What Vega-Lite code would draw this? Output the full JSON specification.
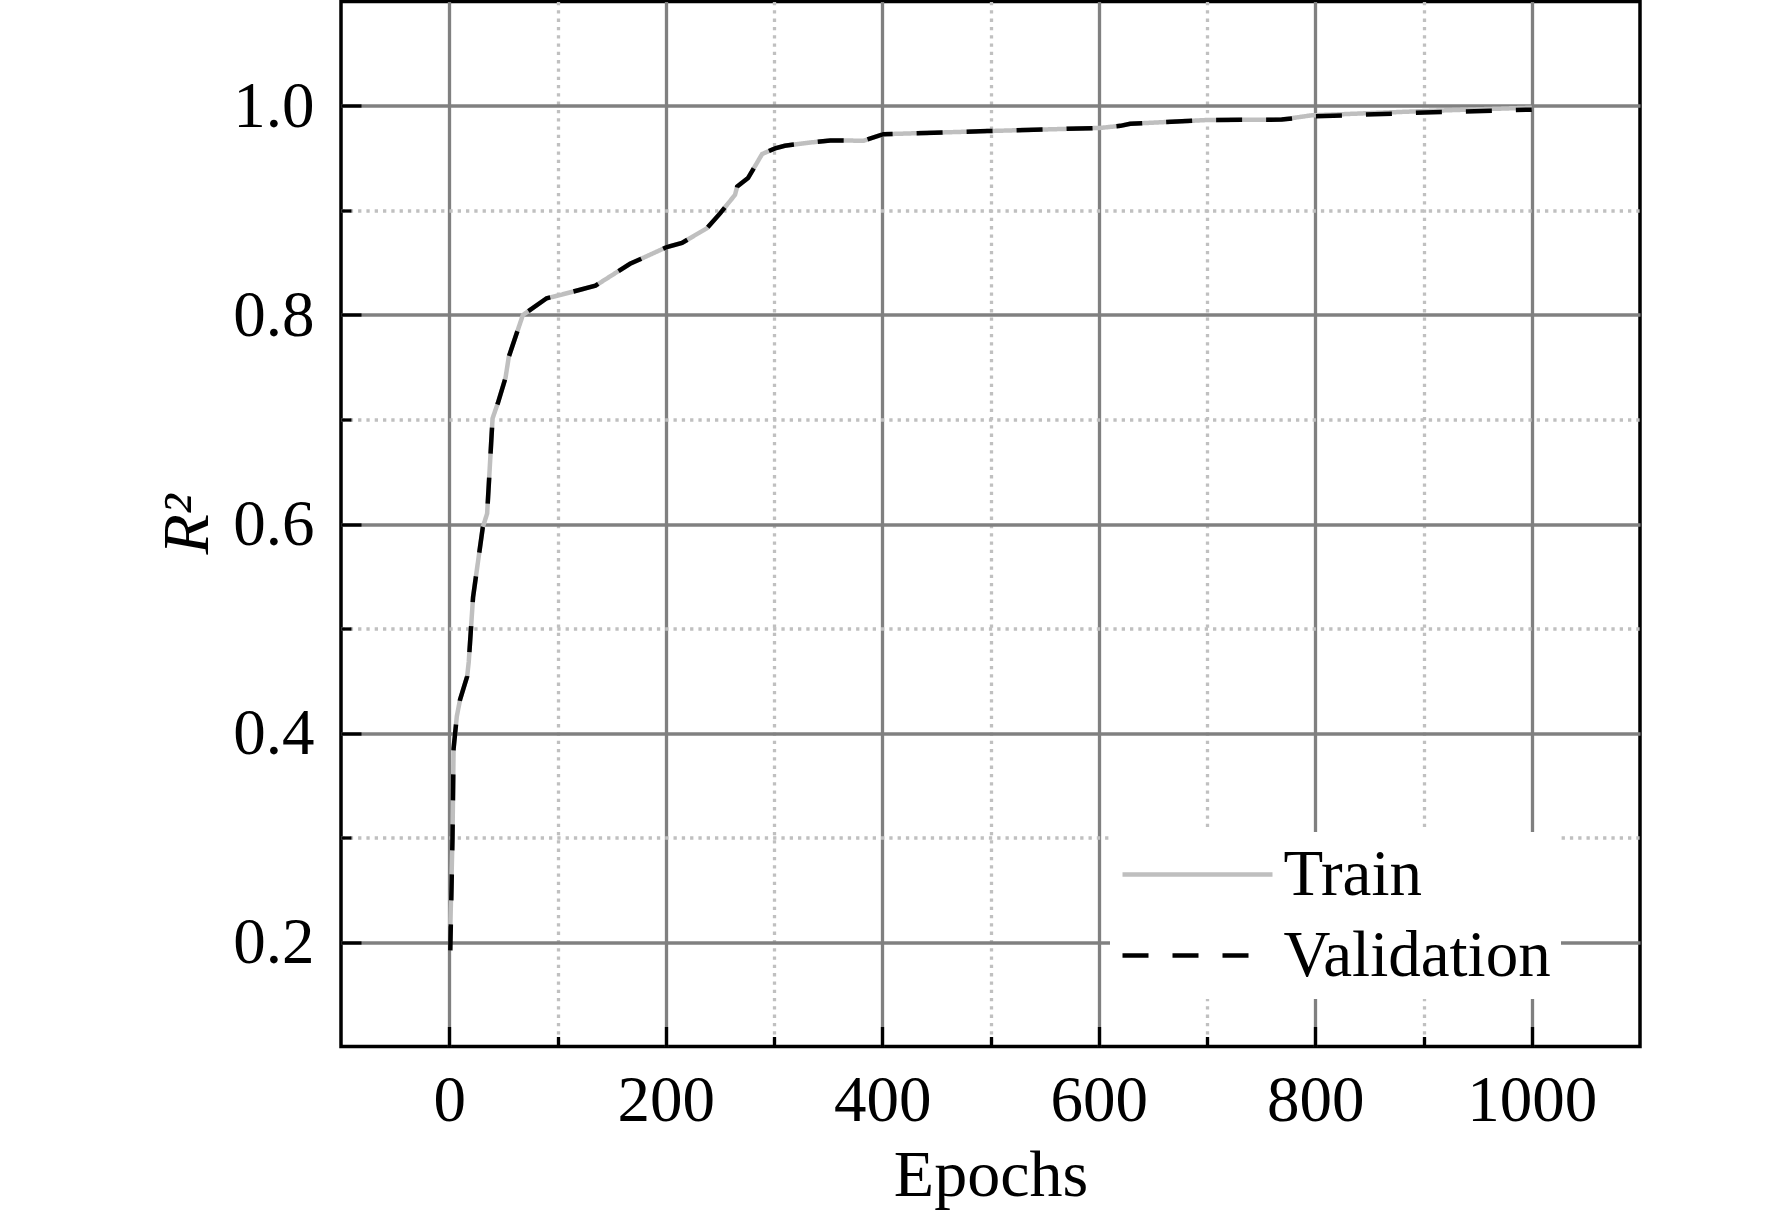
{
  "$schema": "https://vega.github.io/schema/vega-lite/v6.json",
  "autosize": {"type": "none"},
  "padding": {"left": 341, "top": 1.5, "right": 132, "bottom": 171.5},
  "width": 1299,
  "height": 1045,
  "background": "white",
  "config": {
    "font": "Liberation Serif",
    "view": {"stroke": "black", "strokeWidth": 3.5},
    "axis": {
      "labelFont": "Liberation Serif",
      "titleFont": "Liberation Serif",
      "labelColor": "black",
      "titleColor": "black",
      "titleFontWeight": "normal",
      "domain": false
    },
    "legend": {
      "title": null, "orient": "none", "legendX": 769, "legendY": 830.5,
      "symbolType": "M-2,0L8,0", "symbolSize": 900, "symbolStrokeWidth": 4.5,
      "labelFont": "Liberation Serif", "labelFontSize": 65, "labelColor": "black",
      "labelOffset": 98.5, "labelLimit": 500, "padding": 10, "rowPadding": 15,
      "fillColor": "white", "strokeColor": null
    }
  },
  "data": {
    "values": [
      {"epoch": 1, "r2": 0.215, "series": "Train"},
      {"epoch": 3, "r2": 0.300, "series": "Train"},
      {"epoch": 4, "r2": 0.385, "series": "Train"},
      {"epoch": 7, "r2": 0.416, "series": "Train"},
      {"epoch": 10, "r2": 0.432, "series": "Train"},
      {"epoch": 16.5, "r2": 0.454, "series": "Train"},
      {"epoch": 18, "r2": 0.468, "series": "Train"},
      {"epoch": 22, "r2": 0.530, "series": "Train"},
      {"epoch": 31, "r2": 0.597, "series": "Train"},
      {"epoch": 35, "r2": 0.610, "series": "Train"},
      {"epoch": 40, "r2": 0.701, "series": "Train"},
      {"epoch": 45, "r2": 0.716, "series": "Train"},
      {"epoch": 52, "r2": 0.740, "series": "Train"},
      {"epoch": 55, "r2": 0.760, "series": "Train"},
      {"epoch": 68, "r2": 0.800, "series": "Train"},
      {"epoch": 90, "r2": 0.816, "series": "Train"},
      {"epoch": 102, "r2": 0.819, "series": "Train"},
      {"epoch": 135, "r2": 0.828, "series": "Train"},
      {"epoch": 167, "r2": 0.849, "series": "Train"},
      {"epoch": 201, "r2": 0.865, "series": "Train"},
      {"epoch": 215, "r2": 0.869, "series": "Train"},
      {"epoch": 238, "r2": 0.883, "series": "Train"},
      {"epoch": 250, "r2": 0.897, "series": "Train"},
      {"epoch": 264, "r2": 0.915, "series": "Train"},
      {"epoch": 266, "r2": 0.923, "series": "Train"},
      {"epoch": 276, "r2": 0.931, "series": "Train"},
      {"epoch": 289, "r2": 0.954, "series": "Train"},
      {"epoch": 301, "r2": 0.9595, "series": "Train"},
      {"epoch": 310, "r2": 0.962, "series": "Train"},
      {"epoch": 333, "r2": 0.965, "series": "Train"},
      {"epoch": 352, "r2": 0.967, "series": "Train"},
      {"epoch": 383, "r2": 0.9668, "series": "Train"},
      {"epoch": 401, "r2": 0.973, "series": "Train"},
      {"epoch": 497, "r2": 0.976, "series": "Train"},
      {"epoch": 601, "r2": 0.979, "series": "Train"},
      {"epoch": 620, "r2": 0.981, "series": "Train"},
      {"epoch": 629, "r2": 0.983, "series": "Train"},
      {"epoch": 700, "r2": 0.9866, "series": "Train"},
      {"epoch": 769, "r2": 0.987, "series": "Train"},
      {"epoch": 796, "r2": 0.991, "series": "Train"},
      {"epoch": 909, "r2": 0.9955, "series": "Train"},
      {"epoch": 1000, "r2": 0.9984, "series": "Train"},
      {"epoch": 1, "r2": 0.192, "series": "Validation"},
      {"epoch": 3, "r2": 0.300, "series": "Validation"},
      {"epoch": 4, "r2": 0.385, "series": "Validation"},
      {"epoch": 7, "r2": 0.416, "series": "Validation"},
      {"epoch": 10, "r2": 0.432, "series": "Validation"},
      {"epoch": 16.5, "r2": 0.454, "series": "Validation"},
      {"epoch": 18, "r2": 0.468, "series": "Validation"},
      {"epoch": 22, "r2": 0.530, "series": "Validation"},
      {"epoch": 31, "r2": 0.597, "series": "Validation"},
      {"epoch": 35, "r2": 0.610, "series": "Validation"},
      {"epoch": 40, "r2": 0.701, "series": "Validation"},
      {"epoch": 45, "r2": 0.716, "series": "Validation"},
      {"epoch": 52, "r2": 0.740, "series": "Validation"},
      {"epoch": 55, "r2": 0.760, "series": "Validation"},
      {"epoch": 68, "r2": 0.800, "series": "Validation"},
      {"epoch": 90, "r2": 0.816, "series": "Validation"},
      {"epoch": 102, "r2": 0.819, "series": "Validation"},
      {"epoch": 135, "r2": 0.828, "series": "Validation"},
      {"epoch": 167, "r2": 0.849, "series": "Validation"},
      {"epoch": 201, "r2": 0.865, "series": "Validation"},
      {"epoch": 215, "r2": 0.869, "series": "Validation"},
      {"epoch": 238, "r2": 0.883, "series": "Validation"},
      {"epoch": 250, "r2": 0.897, "series": "Validation"},
      {"epoch": 264, "r2": 0.915, "series": "Validation"},
      {"epoch": 266, "r2": 0.923, "series": "Validation"},
      {"epoch": 276, "r2": 0.931, "series": "Validation"},
      {"epoch": 289, "r2": 0.954, "series": "Validation"},
      {"epoch": 301, "r2": 0.9595, "series": "Validation"},
      {"epoch": 310, "r2": 0.962, "series": "Validation"},
      {"epoch": 333, "r2": 0.965, "series": "Validation"},
      {"epoch": 352, "r2": 0.967, "series": "Validation"},
      {"epoch": 383, "r2": 0.9668, "series": "Validation"},
      {"epoch": 401, "r2": 0.973, "series": "Validation"},
      {"epoch": 497, "r2": 0.976, "series": "Validation"},
      {"epoch": 601, "r2": 0.979, "series": "Validation"},
      {"epoch": 620, "r2": 0.981, "series": "Validation"},
      {"epoch": 629, "r2": 0.983, "series": "Validation"},
      {"epoch": 700, "r2": 0.9866, "series": "Validation"},
      {"epoch": 769, "r2": 0.987, "series": "Validation"},
      {"epoch": 796, "r2": 0.990, "series": "Validation"},
      {"epoch": 909, "r2": 0.994, "series": "Validation"},
      {"epoch": 1000, "r2": 0.9965, "series": "Validation"}
    ]
  },
  "layer": [
    {
      "mark": {"type": "point", "opacity": 0},
      "encoding": {
        "x": {
          "field": "epoch", "type": "quantitative",
          "scale": {"domain": [-100, 1100], "nice": false, "zero": false},
          "axis": {
            "orient": "bottom", "values": [100, 300, 500, 700, 900],
            "grid": true, "gridColor": "#c0c0c0", "gridWidth": 3.3, "gridDash": [3.3, 5],
            "ticks": true, "tickSize": -10, "tickColor": "black", "tickWidth": 3.3,
            "labels": false, "title": null
          }
        },
        "y": {
          "field": "r2", "type": "quantitative",
          "scale": {"domain": [0.1, 1.1], "nice": false, "zero": false},
          "axis": {
            "orient": "left", "values": [0.3, 0.5, 0.7, 0.9],
            "grid": true, "gridColor": "#c0c0c0", "gridWidth": 3.3, "gridDash": [3.3, 5],
            "ticks": true, "tickSize": -10, "tickColor": "black", "tickWidth": 3.3,
            "labels": false, "title": null
          }
        }
      }
    },
    {
      "mark": {"type": "line", "strokeWidth": 4.5},
      "encoding": {
        "x": {
          "field": "epoch", "type": "quantitative",
          "scale": {"domain": [-100, 1100], "nice": false, "zero": false},
          "axis": {
            "orient": "bottom", "values": [0, 200, 400, 600, 800, 1000], "format": "d",
            "grid": true, "gridColor": "#808080", "gridWidth": 3.3,
            "ticks": true, "tickSize": -20, "tickColor": "black", "tickWidth": 3.3,
            "labelFontSize": 65, "labelPadding": 43,
            "title": "Epochs", "titleFontSize": 66, "titlePadding": 10
          }
        },
        "y": {
          "field": "r2", "type": "quantitative",
          "scale": {"domain": [0.1, 1.1], "nice": false, "zero": false},
          "axis": {
            "orient": "left", "values": [0.2, 0.4, 0.6, 0.8, 1.0], "format": ".1f",
            "grid": true, "gridColor": "#808080", "gridWidth": 3.3,
            "ticks": true, "tickSize": -20, "tickColor": "black", "tickWidth": 3.3,
            "labelFontSize": 65, "labelPadding": 47,
            "title": "R²", "titleFontSize": 66, "titleFontStyle": "italic", "titlePadding": 11
          }
        },
        "color": {
          "field": "series", "type": "nominal",
          "scale": {"domain": ["Train", "Validation"], "range": ["#bfbfbf", "black"]}
        },
        "strokeDash": {
          "field": "series", "type": "nominal",
          "scale": {"domain": ["Train", "Validation"], "range": [[1, 0], [26, 24]]}
        }
      }
    }
  ],
  "resolve": {"axis": {"x": "independent", "y": "independent"}}
}
